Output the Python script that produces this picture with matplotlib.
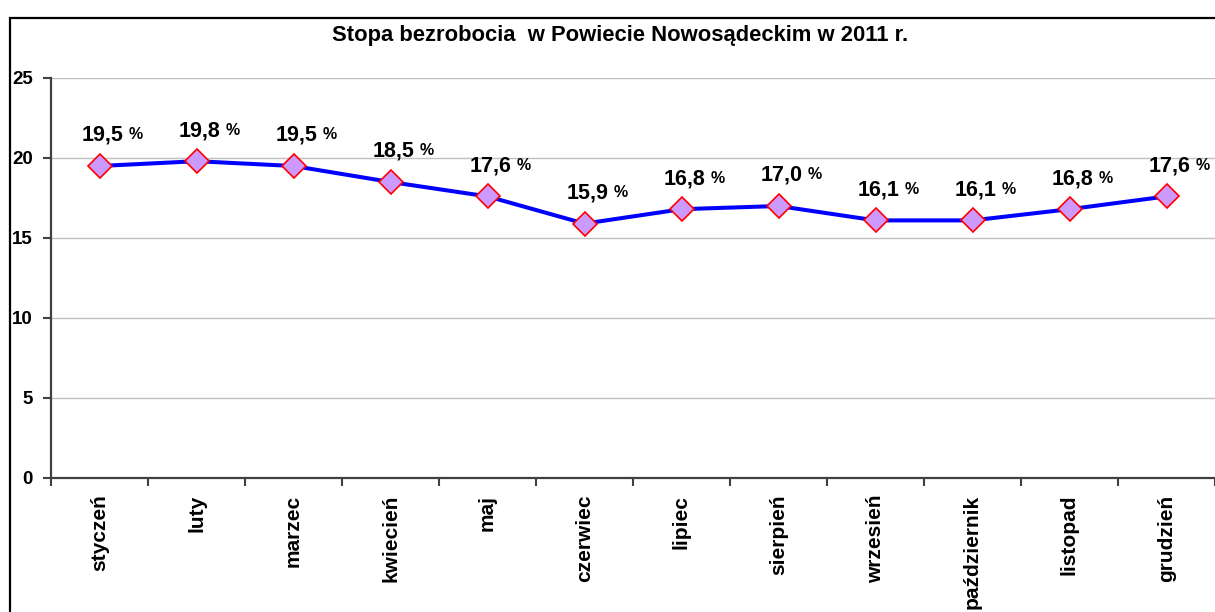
import matplotlib
matplotlib.use("Agg")
import matplotlib.pyplot as plt
from matplotlib.patches import Rectangle
import numpy as np

months = ["styczeń", "luty", "marzec", "kwiecień", "maj", "czerwiec",
          "lipiec", "sierpień", "wrzesień", "październik", "listopad", "grudzień"]
rates = [19.5, 19.8, 19.5, 18.5, 17.6, 15.9, 16.8, 17.0, 16.1, 16.1, 16.8, 17.6]
yticks = [0, 5, 10, 15, 20, 25]
title = "Stopa bezrobocia  w Powiecie Nowosądeckim w 2011 r."

plt.rcParams['font.family'] = ['Liberation Sans', 'DejaVu Sans']

W, H = 1215, 612
fig = plt.figure(figsize=(W / 100, H / 100), dpi=100)
fig.patch.set_facecolor('white')

# outer frame of the chart object
fig.add_artist(Rectangle((10 / W, -0.05), 1.2, (H - 18) / H + 0.05,
                         transform=fig.transFigure, fill=False,
                         ec='black', lw=1.6))

left, right = 51 / W, 1.0
bottom, top = (H - 478) / H, (H - 78) / H
ax = fig.add_axes([left, bottom, right - left, top - bottom])

x = np.arange(len(months)) + 0.5
ax.plot(x, rates, color='#0000FF', lw=2.9, marker='D', ms=12.5,
        mfc='#CC99FF', mec='#FF0000', mew=1.2, zorder=3, clip_on=False)

for xi, v in zip(x, rates):
    num = ax.annotate(f"{v:.1f}".replace('.', ','), xy=(xi, v),
                      xytext=(-13, 22), textcoords='offset points',
                      ha='left', va='center', fontsize=15.5, fontweight='bold',
                      color='black', annotation_clip=False)
    ax.annotate("%", xy=(1, 0), xycoords=num, xytext=(4, 2.5),
                textcoords='offset points', ha='left', va='bottom',
                fontsize=11.5, fontweight='bold', color='black')

ax.set_xlim(0, len(months))
ax.set_ylim(0, 25)
ax.set_yticks(yticks)
ax.set_yticklabels([str(t) for t in yticks], fontsize=13.5, fontweight='bold')
ax.set_xticks(np.arange(len(months) + 1))
ax.set_xticklabels([])
ax.set_xticks(x, minor=True)
ax.set_xticklabels(months, minor=True, rotation=90, fontsize=15,
                   fontweight='bold', va='top', ha='center')
ax.tick_params(axis='x', which='major', length=6, width=1.5, color='#404040', direction='out')
ax.tick_params(axis='x', which='minor', length=0, pad=12)
ax.tick_params(axis='y', length=6, width=1.5, color='#404040', pad=7, direction='out')

ax.grid(axis='y', color='#C0C0C0', lw=1.0)
ax.set_axisbelow(True)
for s in ['top', 'right']:
    ax.spines[s].set_visible(False)
for s in ['left', 'bottom']:
    ax.spines[s].set_color('#404040')
    ax.spines[s].set_linewidth(1.6)

fig.text(620 / W, 1 - 36 / H, title, ha='center', va='center',
         fontsize=15.8, fontweight='bold')

fig.savefig("out.png", dpi=100)
